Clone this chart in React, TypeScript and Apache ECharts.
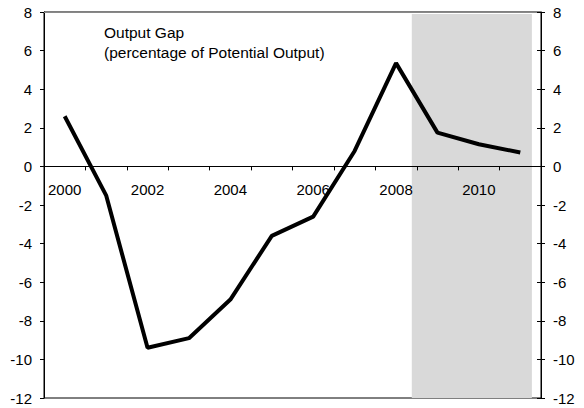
import React, { useEffect, useRef } from "react";
import * as echarts from "echarts";

const years = ["2000", "2001", "2002", "2003", "2004", "2005", "2006", "2007", "2008", "2009", "2010", "2011"];
const outputGap = [2.6, -1.5, -9.4, -8.9, -6.9, -3.6, -2.6, 0.8, 5.35, 1.75, 1.15, 0.72];
const yTicks = { min: -12, max: 8, interval: 2 };
const forecastShade = [2008.38, 2011.28];
const titleLines = ["Output Gap", "(percentage of Potential Output)"];

const GRID_TOP = 12;
const GRID_BOTTOM = 10;
const CHART_H = 408;

export default function App() {
  const ref = useRef<HTMLDivElement>(null);
  useEffect(() => {
    if (!ref.current) return;
    const chart = echarts.init(ref.current, undefined, { renderer: "svg" });
    const font = "'Liberation Sans', Arial, sans-serif";
    const labelStyle = { color: "#000", fontSize: 15, fontFamily: font };
    const plotH = CHART_H - GRID_TOP - GRID_BOTTOM;
    const zeroOffset = -(plotH * (0 - yTicks.min)) / (yTicks.max - yTicks.min);
    chart.setOption({
      animation: false,
      backgroundColor: "#fff",
      grid: {
        left: 44,
        right: 43,
        top: GRID_TOP,
        bottom: GRID_BOTTOM,
        show: true,
        borderColor: "#000",
        borderWidth: 1,
        containLabel: false,
        outerBoundsMode: "none",
      },
      graphic: titleLines.map((t, i) => ({
        type: "text",
        left: 104,
        top: 24 + i * 20,
        style: { text: t, fill: "#000", font: `15.5px ${font}` },
      })),
      xAxis: [
        {
          type: "category",
          data: years,
          boundaryGap: true,
          position: "bottom",
          offset: zeroOffset,
          z: 5,
          axisLine: { onZero: false, lineStyle: { color: "#000", width: 1 } },
          axisTick: { show: true, interval: 0, length: 4, lineStyle: { color: "#000" } },
          axisLabel: { ...labelStyle, interval: 1, margin: 16 },
          splitLine: { show: false },
        },
        {
          type: "value",
          min: 1999.5,
          max: 2011.5,
          position: "top",
          z: 5,
          axisLine: { show: true, onZero: false, lineStyle: { color: "#888", width: 1 } },
          axisTick: { show: false },
          axisLabel: { show: false },
          splitLine: { show: false },
        },
      ],
      yAxis: [
        {
          type: "value",
          position: "left",
          ...yTicks,
          z: 5,
          axisLine: { show: true, onZero: false, lineStyle: { color: "#000" } },
          axisTick: { show: true, length: 4, lineStyle: { color: "#000" } },
          axisLabel: { ...labelStyle, margin: 12 },
          splitLine: { show: false },
        },
        {
          type: "value",
          position: "right",
          ...yTicks,
          z: 5,
          axisLine: { show: true, onZero: false, lineStyle: { color: "#000" } },
          axisTick: { show: true, length: 4, lineStyle: { color: "#000" } },
          axisLabel: { ...labelStyle, margin: 12 },
          splitLine: { show: false },
        },
        {
          type: "value",
          position: "right",
          offset: 0,
          ...yTicks,
          z: 5,
          axisLine: { show: false, onZero: false },
          axisTick: { show: true, inside: true, length: 4, lineStyle: { color: "#000" } },
          axisLabel: { show: false },
          splitLine: { show: false },
        },
      ],
      series: [
        {
          type: "line",
          xAxisIndex: 1,
          yAxisIndex: 0,
          z: 1,
          data: [[forecastShade[0], yTicks.min]],
          symbol: "none",
          lineStyle: { opacity: 0 },
          silent: true,
          markArea: {
            silent: true,
            itemStyle: { color: "#d9d9d9" },
            data: [[{ xAxis: forecastShade[0], yAxis: 7.9 }, { xAxis: forecastShade[1], yAxis: yTicks.min }]],
          },
        },
        {
          type: "line",
          xAxisIndex: 0,
          yAxisIndex: 0,
          z: 3,
          data: outputGap,
          symbol: "none",
          lineStyle: { color: "#000", width: 4 },
        },
      ],
    });
    return () => chart.dispose();
  }, []);
  return <div ref={ref} style={{ width: 584, height: 408, position: "absolute", left: 0, top: 0 }} />;
}
